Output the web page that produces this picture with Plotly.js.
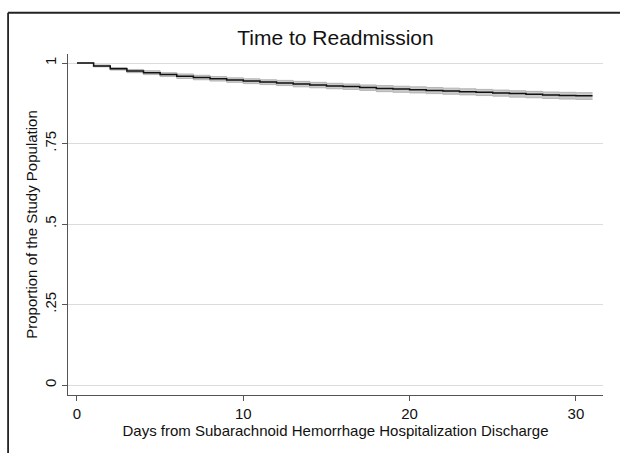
<!DOCTYPE html>
<html>
<head>
<meta charset="utf-8">
<script src="https://cdn.plot.ly/plotly-3.0.1.min.js"></script>
<style>html,body{margin:0;padding:0;background:#fff;}#chart{width:620px;height:453px;}</style>
</head>
<body>
<div id="chart"></div>
<script>
// Days since discharge (step function, last point closes the final step)
const days = [0,1,2,3,4,5,6,7,8,9,10,11,12,13,14,15,16,17,18,19,20,21,22,23,24,25,26,27,28,29,30,31];
// Kaplan-Meier survival estimate
const survival = [1.000,0.991,0.982,0.975,0.970,0.964,0.959,0.955,0.951,0.947,0.944,0.941,0.938,0.935,0.932,0.929,0.927,0.924,0.921,0.919,0.917,0.915,0.913,0.911,0.909,0.907,0.905,0.903,0.901,0.899,0.898,0.898];
// 95% confidence band
const lowerCI = [1.000,0.988,0.978,0.970,0.964,0.958,0.952,0.948,0.944,0.940,0.936,0.933,0.930,0.926,0.923,0.920,0.918,0.915,0.911,0.909,0.907,0.905,0.903,0.901,0.899,0.897,0.894,0.892,0.890,0.888,0.887,0.887];
const upperCI = [1.000,0.994,0.986,0.980,0.976,0.970,0.966,0.962,0.958,0.954,0.951,0.948,0.946,0.943,0.940,0.937,0.935,0.932,0.930,0.928,0.926,0.924,0.922,0.920,0.918,0.916,0.914,0.912,0.910,0.909,0.908,0.908];
// Axis ticks
const xTickVals = [0,10,20,30];
const yTickVals = [0,0.25,0.5,0.75,1];
const yTickText = ["0",".25",".5",".75","1"];

const FONT = "Liberation Sans, Arial, Helvetica, sans-serif";

const traces = [
  {x: days, y: lowerCI, mode: "lines", line: {shape: "hv", color: "#a8a8a8", width: 0.8}, hoverinfo: "skip", showlegend: false},
  {x: days, y: upperCI, mode: "lines", line: {shape: "hv", color: "#a8a8a8", width: 0.8}, fill: "tonexty", fillcolor: "rgba(196,196,196,0.9)", hoverinfo: "skip", showlegend: false},
  {x: days, y: survival, mode: "lines", line: {shape: "hv", color: "#111111", width: 1.5}, showlegend: false}
];

const layout = {
  width: 620, height: 453,
  margin: {l: 68, r: 17, t: 54, b: 58},
  paper_bgcolor: "#ffffff", plot_bgcolor: "#ffffff",
  font: {family: FONT, color: "#111111", size: 15},
  title: {text: "Time to Readmission", font: {family: FONT, size: 21, color: "#111"}, x: 0.5, xref: "paper", y: 1 - 38/453, yref: "container", yanchor: "middle"},
  xaxis: {
    range: [-0.54, 31.63], tickvals: xTickVals, ticks: "outside", ticklen: 5, tickcolor: "#555", tickwidth: 1,
    showgrid: false, zeroline: false, showline: true, linecolor: "#555", linewidth: 1.2,
    tickfont: {family: FONT, size: 15},
    title: {text: "Days from Subarachnoid Hemorrhage Hospitalization Discharge", font: {family: FONT, size: 15}, standoff: 3}
  },
  yaxis: {
    range: [-0.031, 1.028], tickvals: yTickVals, ticktext: yTickText, tickangle: -90,
    ticks: "outside", ticklen: 5, tickcolor: "#555", tickwidth: 1, ticklabelstandoff: 0,
    showgrid: true, gridcolor: "#dcdcdc", gridwidth: 1, zeroline: false,
    showline: true, linecolor: "#555", linewidth: 1.2,
    tickfont: {family: FONT, size: 15},
    title: {text: "Proportion of the Study Population", font: {family: FONT, size: 15}, standoff: 0}
  },
  shapes: [
    {type: "line", xref: "paper", yref: "paper", x0: -0.112, x1: 1.1, y0: 1.121, y1: 1.121, line: {color: "#222", width: 1.8}},
    {type: "line", xref: "paper", yref: "paper", x0: -0.112, x1: -0.112, y0: 1.121, y1: -0.2, line: {color: "#222", width: 1.8}}
  ]
};

Plotly.newPlot("chart", traces, layout, {displayModeBar: false, staticPlot: true});
</script>
</body>
</html>
